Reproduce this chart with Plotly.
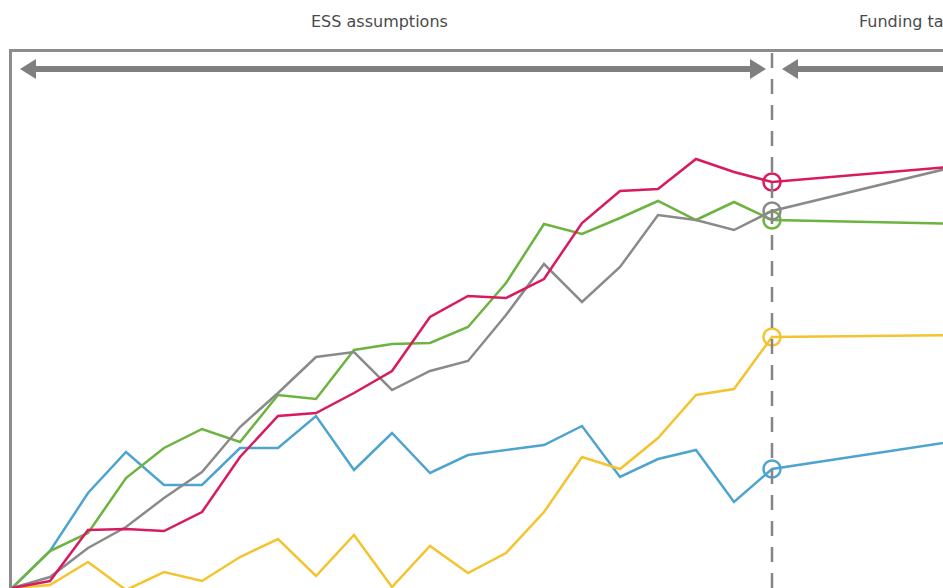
import plotly.graph_objects as go

# ---- data (index 0..20 = ESS period, 25 = funding target end) ----
x_idx = list(range(21)) + [25]

pink = [0, 1.75, 14.5, 14.75, 14.25, 19, 32.75, 43, 43.75, 48.75, 54.25, 67.75,
        73, 72.5, 77.25, 91.25, 99.25, 99.75, 107.25, 104, 101.5, 105.5]
grey = [0, 2.75, 10, 15.25, 22.5, 29, 40.25, 48.75, 57.75, 59, 49.5, 54.25,
        56.75, 68.25, 81, 71.5, 80.25, 93.25, 92, 89.5, 94.25, 105.75]
green = [0, 9.25, 13.75, 27.5, 35, 39.75, 36.5, 48.25, 47.25, 59.5, 61, 61.25,
         65.25, 76.25, 91, 88.5, 92.5, 96.75, 92, 96.5, 92, 91]
yellow = [0, 0.75, 6.5, -0.5, 4, 1.75, 7.75, 12.25, 3, 13.25, 0.25, 10.5,
          3.75, 8.75, 19, 32.75, 29.75, 37.5, 48.25, 49.75, 62.75, 63.25]
blue = [0, 9.25, 23.75, 34, 25.75, 25.75, 35, 35, 43, 29.5, 38.75, 28.75,
        33.25, 34.5, 35.75, 40.5, 27.75, 32.25, 34.5, 21.5, 29.75, 37]

series = [
    ("Blue", blue, "#4ea4cf"),
    ("Yellow", yellow, "#f4c430"),
    ("Green", green, "#6cb33f"),
    ("Grey", grey, "#8a8a8a"),
    ("Pink", pink, "#d81b60"),
]
split_idx = 20
section_labels = ["ESS assumptions", "Funding target"]

W, H = 943, 588
L, T = 12, 52
X_MAX = 24.5
Y_MIN, Y_MAX = 0, 134


def px_x(px):
    # window px -> x data
    return (px - L) / ((W - L) / X_MAX)


def px_yp(py):
    # window py -> paper y
    return (H - py) / (H - T)


fig = go.Figure()
for name, vals, col in series:
    fig.add_trace(go.Scatter(x=x_idx, y=vals, mode="lines", name=name,
                             line=dict(color=col, width=2.5), hoverinfo="skip"))
    fig.add_trace(go.Scatter(x=[x_idx[split_idx]], y=[vals[split_idx]], mode="markers",
                             marker=dict(symbol="circle-open", size=17, color=col,
                                         line=dict(color=col, width=2.5)),
                             showlegend=False, hoverinfo="skip"))

arrow_col = "#7f7f7f"
shapes = []
# dashed divider
shapes.append(dict(type="line", xref="x", yref="paper", x0=split_idx, x1=split_idx,
                   y0=0, y1=1, line=dict(color="#858585", width=2.5, dash="15px,11px"),
                   layer="above"))
yc, yt, yb = px_yp(69), px_yp(59), px_yp(79)
# arrow 1 shaft and heads
shapes.append(dict(type="line", xref="x", yref="paper", x0=px_x(33), x1=px_x(752),
                   y0=yc, y1=yc, line=dict(color=arrow_col, width=6)))
shapes.append(dict(type="path", xref="x", yref="paper",
                   path=f"M {px_x(20)} {yc} L {px_x(36)} {yt} L {px_x(36)} {yb} Z",
                   fillcolor=arrow_col, line=dict(width=0)))
shapes.append(dict(type="path", xref="x", yref="paper",
                   path=f"M {px_x(766)} {yc} L {px_x(750)} {yt} L {px_x(750)} {yb} Z",
                   fillcolor=arrow_col, line=dict(width=0)))
# arrow 2
shapes.append(dict(type="line", xref="x", yref="paper", x0=px_x(795), x1=px_x(960),
                   y0=yc, y1=yc, line=dict(color=arrow_col, width=6)))
shapes.append(dict(type="path", xref="x", yref="paper",
                   path=f"M {px_x(782)} {yc} L {px_x(798)} {yt} L {px_x(798)} {yb} Z",
                   fillcolor=arrow_col, line=dict(width=0)))

annotations = [
    dict(text=section_labels[0], xref="x", yref="paper", x=px_x(379), y=px_yp(22),
         xanchor="center", yanchor="middle", showarrow=False,
         font=dict(family="DejaVu Sans", size=16, color="#4a4a4a")),
    dict(text=section_labels[1], xref="x", yref="paper", x=px_x(857), y=px_yp(22),
         xanchor="left", yanchor="middle", showarrow=False,
         font=dict(family="DejaVu Sans", size=16, color="#4a4a4a")),
]

fig.update_layout(
    width=W, height=H,
    margin=dict(l=L, r=0, t=T, b=0),
    paper_bgcolor="white", plot_bgcolor="white",
    showlegend=False,
    shapes=shapes, annotations=annotations,
    xaxis=dict(range=[0, X_MAX], side="top", showline=True, linecolor="#8c8c8c",
               linewidth=2.5, showgrid=False, zeroline=False, showticklabels=False,
               ticks=""),
    yaxis=dict(range=[Y_MIN, Y_MAX], showline=True, linecolor="#8c8c8c", linewidth=2.5,
               showgrid=False, zeroline=False, showticklabels=False, ticks=""),
)

fig.write_html("out.html",
               config={"displayModeBar": False},
               post_script="document.body.style.margin='0';"
                           "document.body.style.overflow='hidden';")
